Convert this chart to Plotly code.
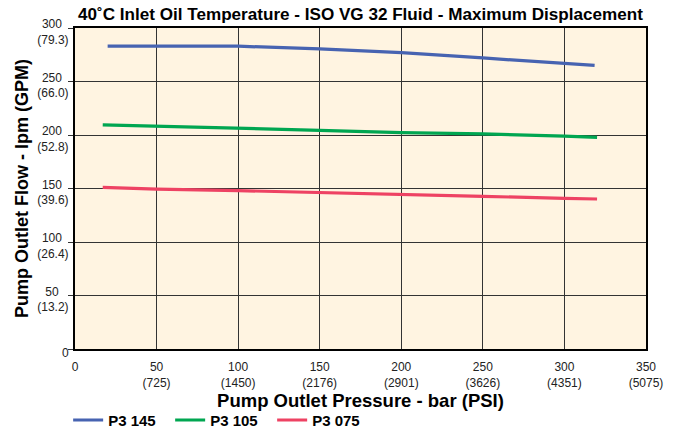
import plotly.graph_objects as go

# ---- data ----
series_names = ["P3 145", "P3 105", "P3 075"]
series_colors = ["#4763B1", "#00A651", "#EE4263"]

p145_bar = [20, 50, 100, 150, 200, 250, 300, 318.5]
p145_lpm = [283, 283, 283, 280.5, 277, 272, 267, 265]

p105_bar = [17, 50, 100, 150, 200, 250, 300, 320]
p105_lpm = [209.5, 208.4, 206.5, 204.4, 202.2, 201, 199, 197.8]

p075_bar = [17, 50, 100, 150, 200, 250, 300, 320]
p075_lpm = [151, 149.5, 148, 146.4, 144.6, 142.7, 140.8, 140.2]

x_tickvals = [0, 50, 100, 150, 200, 250, 300, 350]
x_ticktext = ["0", "50<br>(725)", "100<br>(1450)", "150<br>(2176)", "200<br>(2901)",
              "250<br>(3626)", "300<br>(4351)", "350<br>(5075)"]
y_tickvals = [0, 50, 100, 150, 200, 250, 300]
NB = "\u00a0"
y_ticktext = ["0", "50" + NB * 3 + "<br>(13.2)", "100" + NB * 2 + "<br>(26.4)",
              "150" + NB * 2 + "<br>(39.6)", "200" + NB * 2 + "<br>(52.8)",
              "250" + NB * 2 + "<br>(66.0)", "300" + NB * 2 + "<br>(79.3)"]

FONT = "Liberation Sans, Arial, Helvetica, sans-serif"

fig = go.Figure()
for name, color, xs, ys in zip(series_names, series_colors,
                               [p145_bar, p105_bar, p075_bar],
                               [p145_lpm, p105_lpm, p075_lpm]):
    fig.add_trace(go.Scatter(x=xs, y=ys, mode="lines", name=name,
                             line=dict(color=color, width=3.2)))

fig.update_layout(
    width=673, height=430,
    margin=dict(l=75, r=27, t=28, b=81, autoexpand=False),
    paper_bgcolor="white",
    plot_bgcolor="#FFF4E1",
    font=dict(family=FONT, color="#111"),
    title=dict(text="<b>40˚C Inlet Oil Temperature - ISO VG 32 Fluid - Maximum Displacement</b>",
               x=0.5, xref="paper", xanchor="center",
               y=1 - 14 / 430, yref="container", yanchor="middle",
               font=dict(size=17.1, color="black", family=FONT)),
    showlegend=True,
    legend=dict(orientation="h", xref="paper", yref="paper",
                x=-0.012, xanchor="left", y=-0.222, yanchor="middle",
                font=dict(size=15, color="black", family=FONT, weight="bold"),
                entrywidth=57, bgcolor="rgba(0,0,0,0)"),
)

fig.update_xaxes(
    automargin=False,
    range=[0, 350], tickvals=x_tickvals, ticktext=x_ticktext,
    showgrid=True, gridcolor="#333", gridwidth=1.2,
    showline=True, linecolor="black", linewidth=2, mirror=True,
    zeroline=False, ticks="", tickfont=dict(size=12, color="#222"),
    ticklabelstandoff=6,
    title=dict(text="<b>Pump Outlet Pressure - bar (PSI)</b>", standoff=4,
               font=dict(size=18.5, color="black")),
)
fig.update_yaxes(
    automargin=False,
    range=[0, 300], tickvals=y_tickvals, ticktext=y_ticktext,
    showgrid=True, gridcolor="#333", gridwidth=1.2,
    showline=True, linecolor="black", linewidth=2, mirror=True,
    zeroline=False, ticks="outside", ticklen=5, tickcolor="#333",
    tickfont=dict(size=12, color="#222"), ticklabelshift=4, ticklabelstandoff=-3,
    title=dict(text="<b>Pump Outlet Flow - lpm (GPM)</b>", standoff=4,
               font=dict(size=18, color="black")),
)

fig.write_html("out.html", config={"displayModeBar": False},
               post_script="document.body.style.margin='0';")
